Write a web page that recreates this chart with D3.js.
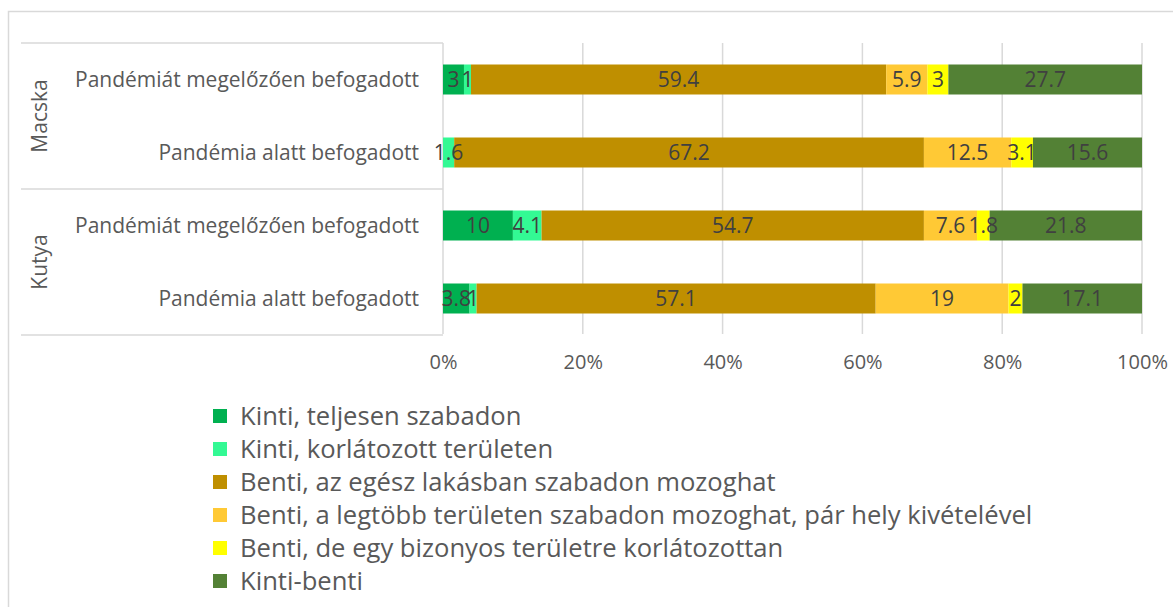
<!DOCTYPE html>
<html lang="hu">
<head>
<meta charset="UTF-8">
<title>Macska / Kutya</title>
<script src="https://cdn.jsdelivr.net/npm/d3@7"></script>
<style>
  body{margin:0;background:#fff;}
  svg{display:block;font-family:"Open Sans",sans-serif;}
</style>
</head>
<body>
<div id="chart"></div>
<script>
// rows from top to bottom
var groups=["Macska","Kutya"];
var rowLabels=["Pandémiát megelőzően befogadott","Pandémia alatt befogadott","Pandémiát megelőzően befogadott","Pandémia alatt befogadott"];
var rowGroup=["Macska","Macska","Kutya","Kutya"];
var seriesNames=["Kinti, teljesen szabadon","Kinti, korlátozott területen","Benti, az egész lakásban szabadon mozoghat","Benti, a legtöbb területen szabadon mozoghat, pár hely kivételével","Benti, de egy bizonyos területre korlátozottan","Kinti-benti"];
var seriesColors=["#00b050","#33f994","#bf8f00","#ffc935","#ffff00","#538135"];
// values per row, one entry per series
var values=[
  [3,1,59.4,5.9,3,27.7],
  [0,1.6,67.2,12.5,3.1,15.6],
  [10,4.1,54.7,7.6,1.8,21.8],
  [3.8,1,57.1,19,2,17.1]
];
var ticks=[0,20,40,60,80,100];

var W=1173,H=607;
var svg=d3.select("#chart").append("svg").attr("width",W).attr("height",H);
var grid="#d9d9d9", txt="#595959";

// outer chart border (left + top visible)
svg.append("path").attr("d","M8.5,"+H+"V11.5H"+W).attr("fill","none").attr("stroke",grid).attr("stroke-width",1.5);

var x=d3.scaleLinear().domain([0,100]).range([443,1142]);
var y=d3.scaleBand().domain(d3.range(rowLabels.length)).range([43,335]).paddingInner(0.589).paddingOuter(0.2945);

// gridlines
svg.append("g").selectAll("line").data(ticks).join("line")
  .attr("x1",d=>x(d)).attr("x2",d=>x(d)).attr("y1",43).attr("y2",334)
  .attr("stroke",grid).attr("stroke-width",1.5);

// x axis labels
var xAxis=d3.axisBottom(x).tickValues(ticks).tickSize(0).tickPadding(0).tickFormat(d=>d+"%");
var xa=svg.append("g").attr("transform","translate(0,355)").call(xAxis);
xa.select(".domain").remove();
xa.selectAll("text").attr("fill",txt).style("font-size","20px").style("font-family","'Open Sans',sans-serif");

// stacked bars
var stacked=values.map(function(v,i){
  var acc=0;
  return v.map(function(d,j){var s={row:i,ser:j,x0:acc,x1:acc+d,v:d};acc+=d;return s;});
});
var rows=svg.append("g").selectAll("g").data(stacked).join("g");
rows.selectAll("rect").data(d=>d).join("rect")
  .attr("x",d=>x(d.x0)).attr("width",d=>x(d.x1)-x(d.x0))
  .attr("y",d=>y(d.row)).attr("height",y.bandwidth())
  .attr("fill",d=>seriesColors[d.ser]);
rows.selectAll("text").data(d=>d.filter(e=>e.v>0)).join("text")
  .attr("x",d=>x((d.x0+d.x1)/2)).attr("y",d=>y(d.row)+y.bandwidth()/2)
  .attr("dy","0.36em").attr("text-anchor","middle")
  .attr("fill","#404040").style("font-size","21px")
  .text(d=>d.v);

// category axis: box lines
var cat=svg.append("g");
[43,189,335].forEach(function(yy){
  cat.append("line").attr("x1",21).attr("x2",443).attr("y1",yy).attr("y2",yy).attr("stroke",grid).attr("stroke-width",1.5);
});
cat.selectAll("text.row").data(rowLabels).join("text").attr("class","row")
  .attr("x",419).attr("y",(d,i)=>y(i)+y.bandwidth()/2).attr("dy","0.36em")
  .attr("text-anchor","end").attr("fill",txt).style("font-size","21px")
  .text(d=>d);
var gy=d3.scaleBand().domain(groups).range([43,335]);
cat.selectAll("text.grp").data(groups).join("text").attr("class","grp")
  .attr("transform",d=>"translate(47,"+(gy(d)+gy.bandwidth()/2)+") rotate(-90)")
  .attr("text-anchor","middle").attr("fill",txt).style("font-size","21px")
  .text(d=>d);

// legend
var lg=svg.append("g").selectAll("g").data(seriesNames).join("g")
  .attr("transform",(d,i)=>"translate(213,"+(416+i*33)+")");
lg.append("rect").attr("x",0).attr("y",-7).attr("width",14).attr("height",14).attr("fill",(d,i)=>seriesColors[i]);
lg.append("text").attr("x",27).attr("dy","0.36em").attr("fill",txt).style("font-size","25.6px").text(d=>d);
</script>
</body>
</html>
